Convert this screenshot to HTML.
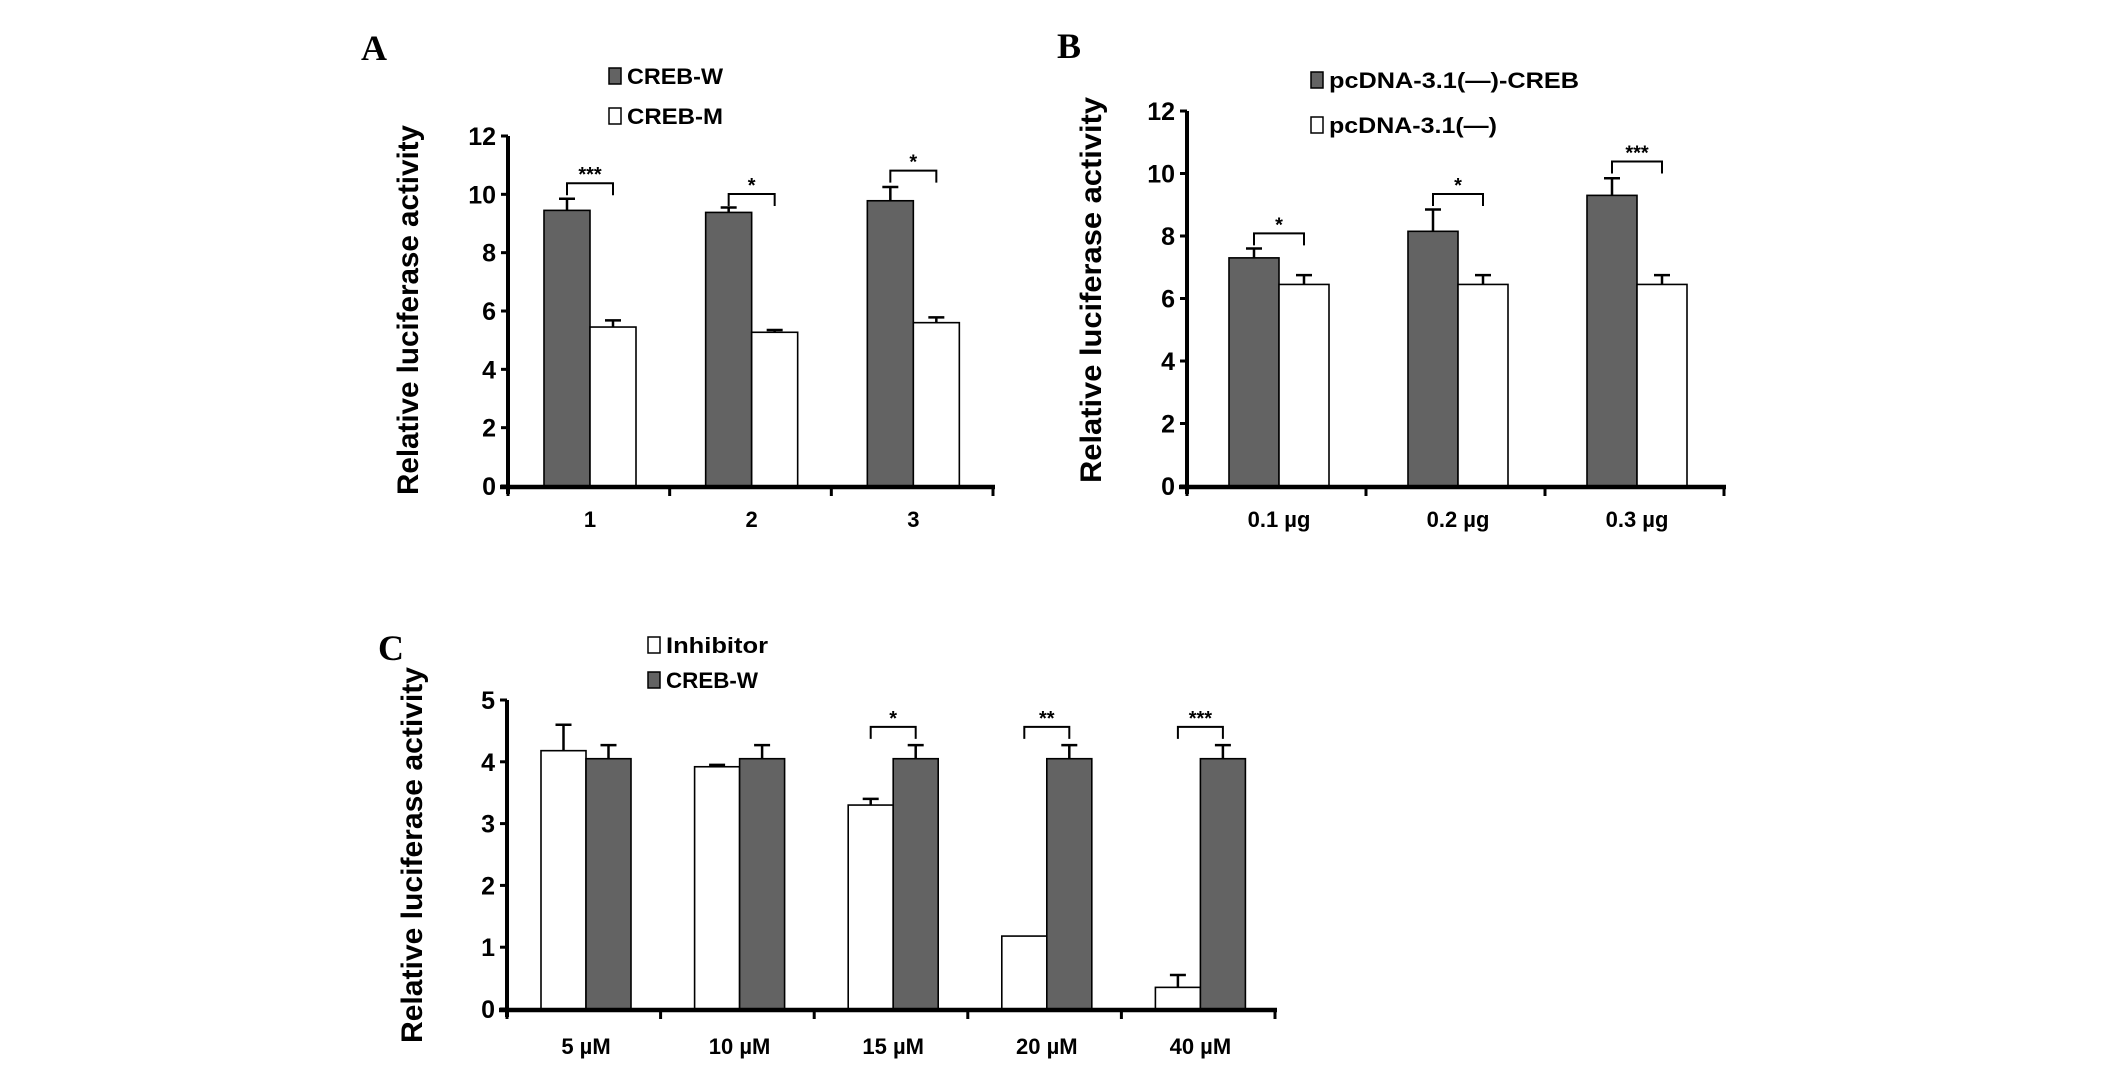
<!DOCTYPE html>
<html><head><meta charset="utf-8"><style>
html,body{margin:0;padding:0;background:#fff;}
svg{display:block;}
text{font-family:"Liberation Sans",Arial,sans-serif;font-weight:bold;fill:#000;}
.pl{font-family:"Liberation Serif","Times New Roman",serif;}
</style></head><body>
<svg id="fig" width="2126" height="1066" viewBox="0 0 2126 1066" xmlns="http://www.w3.org/2000/svg"></svg>
<script>
// Panel A data
const aCategories = ["1","2","3"];
const aCrebW = [9.45, 9.38, 9.78];
const aCrebWErr = [0.4, 0.17, 0.47];
const aCrebM = [5.45, 5.27, 5.6];
const aCrebMErr = [0.23, 0.08, 0.18];
const aSig = ["***","*","*"];
const aSigLevel = [9.97, 9.6, 10.4];
const aTicks = [0,2,4,6,8,10,12];
// Panel B data
const bCategories = ["0.1 \u00b5g","0.2 \u00b5g","0.3 \u00b5g"];
const bCreb = [7.3, 8.15, 9.3];
const bCrebErr = [0.3, 0.7, 0.55];
const bEmpty = [6.45, 6.45, 6.45];
const bEmptyErr = [0.3, 0.3, 0.3];
const bSig = ["*","*","***"];
const bSigLevel = [7.7, 8.96, 10.0];
const bTicks = [0,2,4,6,8,10,12];
// Panel C data
const cCategories = ["5 \u00b5M","10 \u00b5M","15 \u00b5M","20 \u00b5M","40 \u00b5M"];
const cInhibitor = [4.18, 3.92, 3.3, 1.18, 0.35];
const cInhibitorErr = [0.42, 0.03, 0.1, 0, 0.2];
const cCrebW = [4.05, 4.05, 4.05, 4.05, 4.05];
const cCrebWErr = [0.22, 0.22, 0.22, 0.22, 0.22];
const cSig = ["","","*","**","***"];
const cSigLevel = [0,0,4.37,4.37,4.37];
const cTicks = [0,1,2,3,4,5];

const NS="http://www.w3.org/2000/svg";
const svg=document.getElementById('fig');
function el(tag,attrs,parent,txt){const e=document.createElementNS(NS,tag);for(const k in attrs)e.setAttribute(k,attrs[k]);if(txt!==undefined)e.textContent=txt;(parent||svg).appendChild(e);return e;}

function panel(cfg){
  const g=el('g',{});
  
  
  const ymax=cfg.ticks[cfg.ticks.length-1];
  const y=v=>cfg.y0-(cfg.y0-cfg.yTop)*v/ymax;
  const n=cfg.cats.length;
  const gw=(cfg.xEnd-cfg.x0)/n;
  // bars
  for(let i=0;i<n;i++){
    const gx=cfg.x0+gw*i;
    cfg.series.forEach((s,j)=>{
      const bx=gx+cfg.off+j*cfg.bw;
      const v=s.vals[i];
      const r=el('rect',{x:bx,y:y(v),width:cfg.bw,height:cfg.y0-y(v),fill:s.fill,stroke:'#000','stroke-width':1.6},g);
      
      
      const e=s.err[i];
      if(e>0){
        const cx=bx+cfg.bw/2;
        const eb=el('path',{d:`M${cx},${y(v)} V${y(v+e)} M${cx-8},${y(v+e)} H${cx+8}`,stroke:'#000','stroke-width':2.5,fill:'none'},g);
        
        
      }
    });
    if(cfg.sig[i]){
      const x1=gx+cfg.off+cfg.bw/2, x2=x1+cfg.bw;
      const yb=y(cfg.sigLevel[i]), yt=yb-12;
      const br=el('path',{d:`M${x1},${yb} V${yt} H${x2} V${yb}`,stroke:'#000','stroke-width':2,fill:'none'},g);
      
      
      const st=el('text',{x:(x1+x2)/2,y:yt-2,'text-anchor':'middle','font-size':20},g,cfg.sig[i]);
      
      
    }
  }
  // axes
  const ya=el('line',{x1:cfg.x0,y1:cfg.yTop,x2:cfg.x0,y2:cfg.y0+8,stroke:'#000','stroke-width':4},g);
  
  
  const xa=el('line',{x1:cfg.x0-8,y1:cfg.y0+1,x2:cfg.xEnd+2,y2:cfg.y0+1,stroke:'#000','stroke-width':4.5},g);
  
  
  cfg.ticks.forEach(t=>{
    el('line',{x1:cfg.x0-7,y1:y(t),x2:cfg.x0,y2:y(t),stroke:'#000','stroke-width':3},g);
    const tl=el('text',{x:cfg.x0-12,y:y(t)+9,'text-anchor':'end','font-size':25},g,String(t));
    
    
  });
  for(let i=0;i<=n;i++){
    const tx=cfg.x0+gw*i;
    el('line',{x1:tx,y1:cfg.y0,x2:tx,y2:cfg.y0+10,stroke:'#000','stroke-width':3},g);
  }
  cfg.cats.forEach((c,i)=>{
    const cx=cfg.x0+gw*i+cfg.off+cfg.bw;
    const xl=el('text',{x:cx,y:cfg.labY,'text-anchor':'middle','font-size':cfg.labFs},g,c);
    
    
  });
  // y title
  const yt=el('text',{x:0,y:0,'text-anchor':'middle','font-size':30,transform:`translate(${cfg.ytX},${cfg.ytY}) rotate(-90)`,textLength:cfg.ytLen,lengthAdjust:'spacingAndGlyphs'},g,'Relative luciferase activity');
  
  
  // panel letter
  const pl=el('text',{x:cfg.letter[0],y:cfg.letter[1],'font-size':36,class:'pl'},g,cfg.letter[2]);
  
  
  // legend
  cfg.legend.forEach(l=>{
    const lg=el('g',{},g);
    
    
    el('rect',{x:l.x,y:l.y-8,width:12,height:16,fill:l.fill,stroke:'#000','stroke-width':1.5},lg);
    el('text',{x:l.x+18,y:l.y+8,'font-size':22,textLength:l.len,lengthAdjust:'spacingAndGlyphs'},lg,l.text);
  });
}

panel({name:'panel-a',cats:aCategories,ticks:aTicks,x0:508,xEnd:993,y0:486,yTop:136,off:36,bw:46,
  series:[{key:'creb-w',vals:aCrebW,err:aCrebWErr,fill:'#636363'},{key:'creb-m',vals:aCrebM,err:aCrebMErr,fill:'#fff'}],
  sig:aSig,sigLevel:aSigLevel,labY:527,labFs:22,ytX:418,ytY:310,ytLen:370,letter:[361,60,'A'],
  legend:[{x:609,y:76,fill:'#636363',text:'CREB-W',len:96},{x:609,y:116,fill:'#fff',text:'CREB-M',len:96}]});

panel({name:'panel-b',cats:bCategories,ticks:bTicks,x0:1187,xEnd:1724,y0:486,yTop:111,off:42,bw:50,
  series:[{key:'pcdna-creb',vals:bCreb,err:bCrebErr,fill:'#636363'},{key:'pcdna-empty',vals:bEmpty,err:bEmptyErr,fill:'#fff'}],
  sig:bSig,sigLevel:bSigLevel,labY:527,labFs:22,ytX:1101,ytY:290,ytLen:386,letter:[1057,58,'B'],
  legend:[{x:1311,y:80,fill:'#636363',text:'pcDNA-3.1(\u2014)-CREB',len:250},{x:1311,y:125,fill:'#fff',text:'pcDNA-3.1(\u2014)',len:168}]});

panel({name:'panel-c',cats:cCategories,ticks:cTicks,x0:507,xEnd:1275,y0:1009,yTop:700,off:34,bw:45,
  series:[{key:'inhibitor',vals:cInhibitor,err:cInhibitorErr,fill:'#fff'},{key:'creb-w',vals:cCrebW,err:cCrebWErr,fill:'#636363'}],
  sig:cSig,sigLevel:cSigLevel,labY:1054,labFs:22,ytX:422,ytY:855,ytLen:376,letter:[378,660,'C'],
  legend:[{x:648,y:645,fill:'#fff',text:'Inhibitor',len:102},{x:648,y:680,fill:'#636363',text:'CREB-W',len:92}]});
</script>
</body></html>
